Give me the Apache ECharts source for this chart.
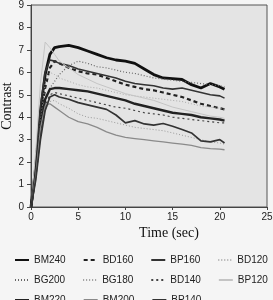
<!DOCTYPE html>
<html>
<head>
<meta charset="utf-8">
<script src="https://cdn.jsdelivr.net/npm/echarts@6/dist/echarts.min.js"></script>
<style>
  html, body { margin: 0; padding: 0; background: #f5f5f5; }
  #chart { width: 273px; height: 300px; }
</style>
</head>
<body>
<div id="chart"></div>
<script>
// time points (sec)
const times = [0, 0.5, 1, 1.5, 2, 2.5, 3, 4, 5, 6, 7, 8, 9, 10, 11, 12, 13, 14, 15, 16, 17, 18, 19, 20, 20.5]

// contrast values
const BM240 = [0, 1.8, 4.2, 5.9, 6.8, 7.1, 7.15, 7.2, 7.1, 6.95, 6.8, 6.65, 6.55, 6.5, 6.4, 6.15, 5.9, 5.75, 5.72, 5.68, 5.45, 5.3, 5.5, 5.35, 5.25]
const BD160 = [0, 1.6, 3.8, 5.3, 6.2, 6.5, 6.4, 6.2, 6.05, 5.95, 5.9, 5.75, 5.6, 5.45, 5.35, 5.25, 5.2, 5.1, 5.0, 4.9, 4.75, 4.6, 4.5, 4.4, 4.35]
const BP160 = [0, 2.0, 4.5, 6.0, 6.55, 6.5, 6.4, 6.3, 6.15, 6.05, 5.95, 5.85, 5.75, 5.6, 5.5, 5.45, 5.4, 5.3, 5.25, 5.3, 5.2, 5.1, 5.0, 4.95, 4.85]
const BD120 = [0, 1.5, 3.8, 5.5, 6.0, 5.9, 5.75, 5.6, 5.45, 5.35, 5.3, 5.2, 5.1, 5.0, 4.95, 4.9, 4.85, 4.8, 4.75, 4.7, 4.6, 4.5, 4.45, 4.4, 4.35]
const BG200 = [0, 1.5, 3.5, 4.8, 5.3, 5.6, 5.9, 6.3, 6.5, 6.4, 6.25, 6.2, 6.1, 6.0, 5.95, 5.85, 5.75, 5.7, 5.65, 5.6, 5.55, 5.5, 5.45, 5.4, 5.35]
const BG180 = [0, 1.2, 3.0, 4.3, 4.7, 4.75, 4.6, 4.4, 4.15, 4.0, 3.95, 3.85, 3.75, 3.65, 3.55, 3.5, 3.45, 3.4, 3.3, 3.2, 3.1, 3.0, 2.9, 2.85, 2.8]
const BD140 = [0, 1.3, 3.2, 4.5, 5.0, 5.1, 5.05, 4.95, 4.85, 4.75, 4.65, 4.55, 4.45, 4.4, 4.3, 4.2, 4.15, 4.1, 4.0, 3.95, 3.9, 3.85, 3.8, 3.75, 3.75]
const BP120 = [0, 2.5, 5.5, 7.35, 7.1, 6.8, 6.5, 6.2, 5.9, 5.7, 5.5, 5.35, 5.2, 5.05, 4.95, 4.85, 4.75, 4.6, 4.45, 4.35, 4.25, 4.15, 4.05, 4.0, 3.95]
const BM220 = [0, 1.5, 3.5, 4.8, 5.25, 5.3, 5.3, 5.25, 5.2, 5.15, 5.05, 4.95, 4.85, 4.75, 4.6, 4.5, 4.4, 4.3, 4.2, 4.15, 4.1, 4.0, 3.95, 3.9, 3.85]
const BM200 = [0, 1.4, 3.5, 4.5, 4.6, 4.45, 4.3, 4.0, 3.8, 3.7, 3.55, 3.35, 3.2, 3.1, 3.05, 3.0, 2.95, 2.9, 2.85, 2.8, 2.75, 2.65, 2.6, 2.58, 2.55]
const BP140 = [0, 1.2, 3.0, 4.3, 4.9, 5.0, 4.9, 4.8, 4.65, 4.55, 4.45, 4.35, 4.1, 3.75, 3.85, 3.7, 3.65, 3.72, 3.6, 3.45, 3.3, 2.95, 2.9, 3.0, 2.85]

// legend rows
const legendRows = [
  ['BM240', 'BD160', 'BP160', 'BD120'],
  ['BG200', 'BG180', 'BD140', 'BP120'],
  ['BM220', 'BM200', 'BP140']
]

const seriesData = { BM240, BD160, BP160, BD120, BG200, BG180, BD140, BP120, BM220, BM200, BP140 }

// line looks
const looks = {
  BM240: { color: '#111', width: 2.8, type: 'solid' },
  BD160: { color: '#222', width: 2.2, type: [4, 3] },
  BP160: { color: '#333', width: 1.6, type: 'solid' },
  BD120: { color: '#aaa', width: 1, type: [1, 2] },
  BG200: { color: '#666', width: 1.2, type: [1, 2] },
  BG180: { color: '#999', width: 1, type: [1, 2] },
  BD140: { color: '#444', width: 1.2, type: [2, 3] },
  BP120: { color: '#c4c4c4', width: 1, type: 'solid' },
  BM220: { color: '#222', width: 2.4, type: 'solid' },
  BM200: { color: '#8a8a8a', width: 1.3, type: 'solid' },
  BP140: { color: '#333', width: 1.7, type: 'solid' }
}

const chart = echarts.init(document.getElementById('chart'))

const series = Object.keys(seriesData).map(name => ({
  name: name,
  type: 'line',
  symbol: 'none',
  smooth: false,
  data: times.map((t, i) => [t, seriesData[name][i]]),
  lineStyle: looks[name],
  itemStyle: { color: looks[name].color }
}))

const legends = legendRows.map((row, r) => ({
  data: row,
  left: 14,
  top: 255 + r * 20,
  width: 259,
  padding: 0,
  orient: 'horizontal',
  itemWidth: 14,
  itemHeight: 10,
  itemGap: 17,
  selectedMode: false,
  itemStyle: { opacity: 0 },
  textStyle: {
    fontFamily: 'Liberation Sans, Arial, sans-serif',
    fontSize: 10,
    color: '#222'
  }
}))

const option = {
  backgroundColor: '#f5f5f5',
  animation: false,
  grid: {
    left: 31,
    top: 5,
    right: 6,
    bottom: 93,
    outerBoundsMode: 'none',
    show: true,
    backgroundColor: '#e4e4e4',
    borderColor: '#555',
    borderWidth: 1
  },
  legend: legends,
  xAxis: {
    type: 'value',
    min: 0,
    max: 25,
    interval: 5,
    name: 'Time (sec)',
    nameLocation: 'middle',
    nameGap: 19,
    nameMoveOverlap: false,
    nameTextStyle: {
      fontFamily: 'Liberation Serif, Times New Roman, serif',
      fontSize: 14,
      color: '#111',
      padding: [0, 0, 0, 40]
    },
    axisLine: { lineStyle: { color: '#444' } },
    axisTick: { show: true, length: 3, lineStyle: { color: '#444' } },
    axisLabel: { fontFamily: 'Liberation Sans, Arial, sans-serif', fontSize: 10, color: '#222', margin: 5 },
    splitLine: { show: false }
  },
  yAxis: {
    type: 'value',
    min: 0,
    max: 9,
    interval: 1,
    name: 'Contrast',
    nameLocation: 'middle',
    nameGap: 17,
    nameMoveOverlap: false,
    nameTextStyle: {
      fontFamily: 'Liberation Serif, Times New Roman, serif',
      fontSize: 14,
      color: '#111'
    },
    axisLine: { show: true, lineStyle: { color: '#444' } },
    axisTick: { show: true, length: 4, lineStyle: { color: '#444' } },
    axisLabel: { fontFamily: 'Liberation Sans, Arial, sans-serif', fontSize: 10, color: '#222', margin: 7 },
    splitLine: { show: false }
  },
  series: series
}

chart.setOption(option)
</script>
</body>
</html>
